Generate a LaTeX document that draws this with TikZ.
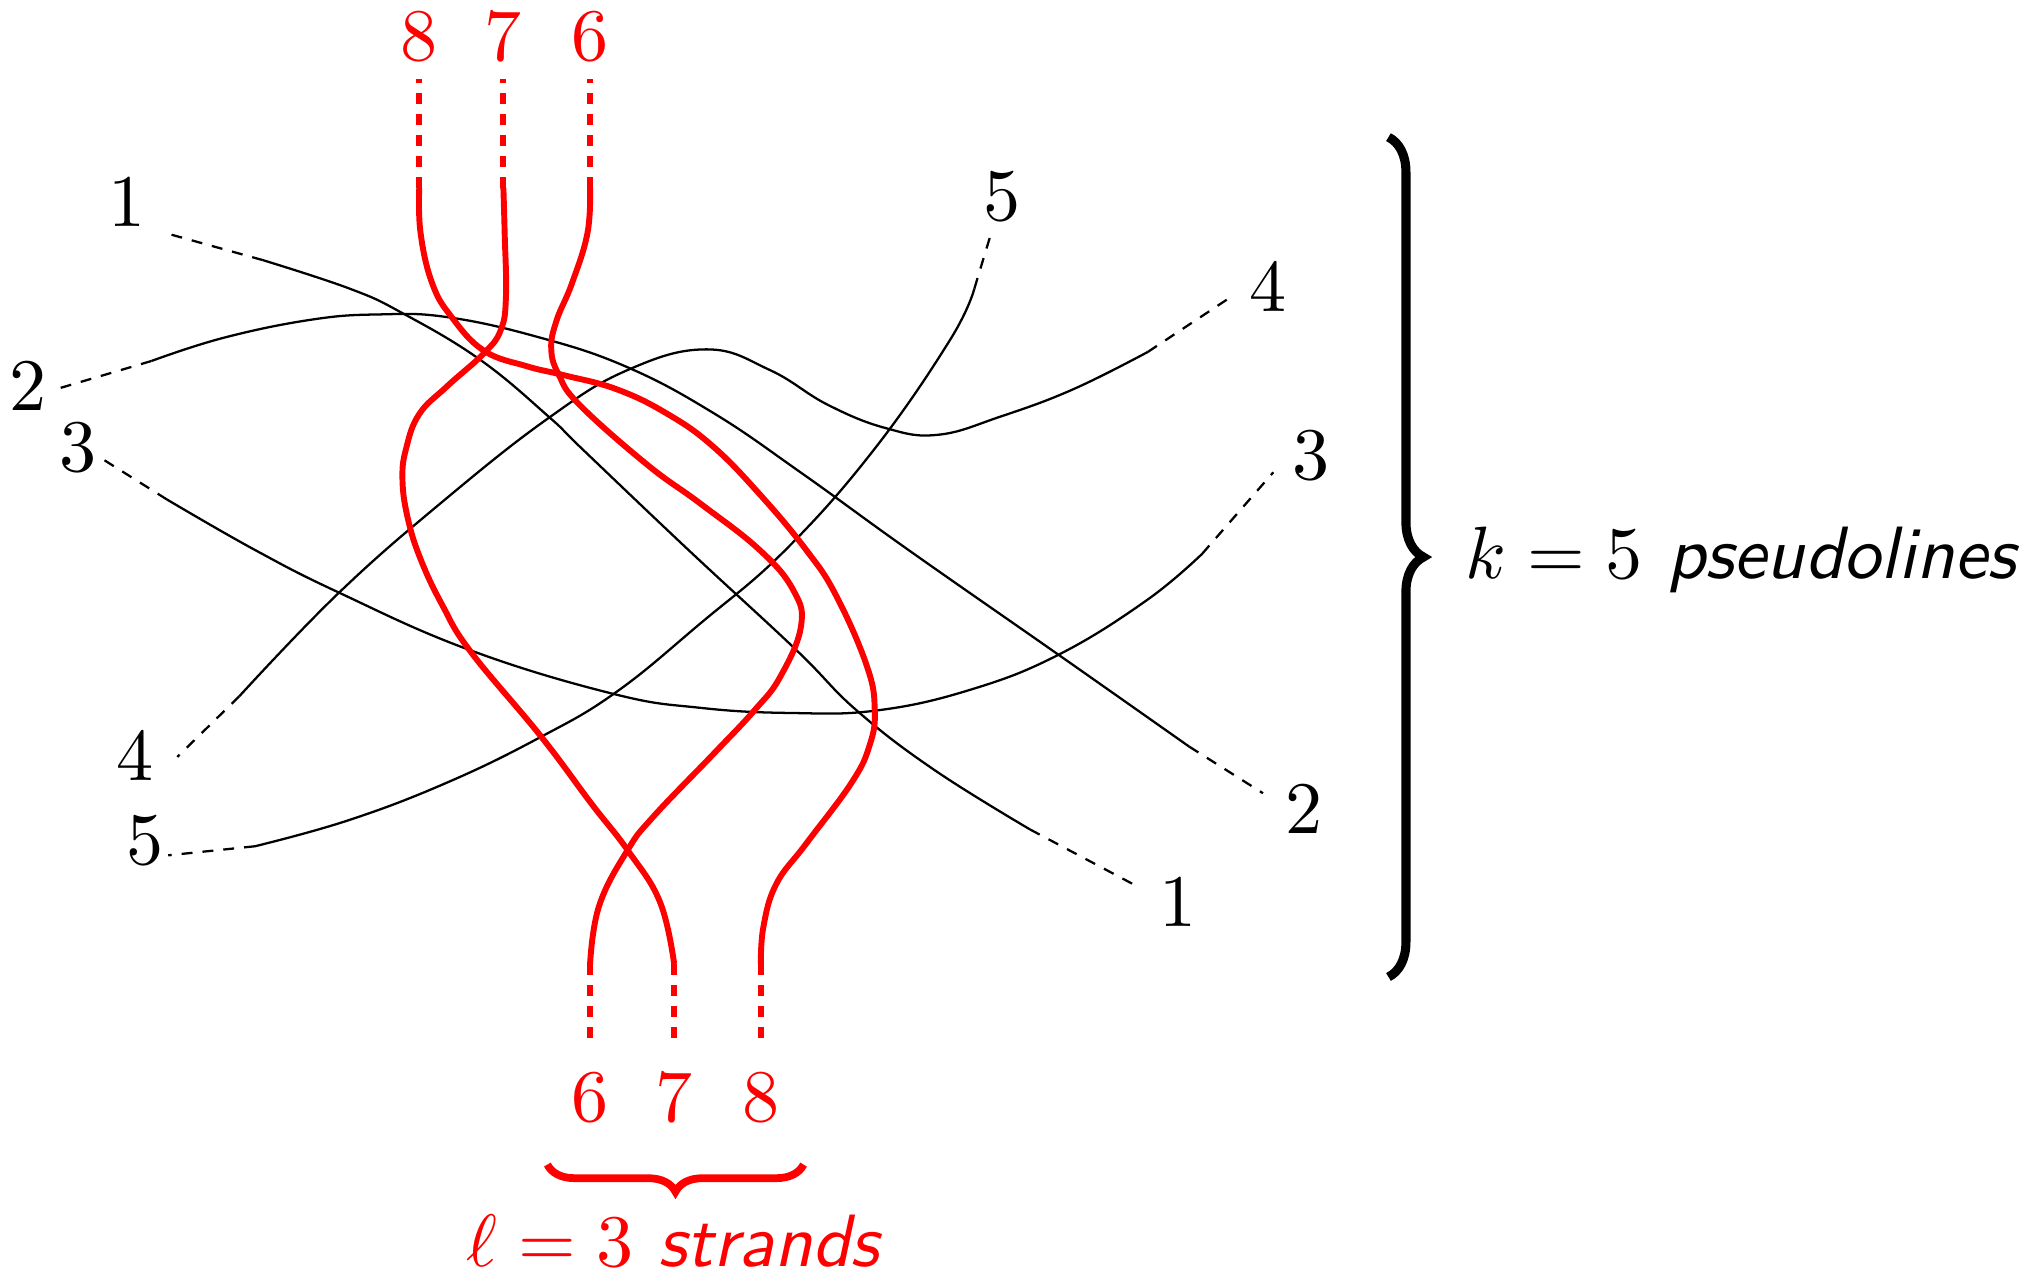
\documentclass[tikz,border=0pt]{standalone}
\usepackage{graphicx}
\usepackage{tikz}
\usetikzlibrary{positioning, decorations.pathreplacing}

% text is set at 10pt and blown up
\newcommand{\tx}[1]{\scalebox{1.63}{#1}}

\begin{document}
\begin{tikzpicture}[
    x=1mm, y=-1mm,
    lbl/.style={inner sep=0pt},
    pline/.style={line width=0.5pt},
    strand/.style={red, line width=1.3pt},
    ext/.style={dash pattern=on 2.4pt off 2.2pt},
    curve/.style={smooth, tension=0.7},
    bigbrace/.style={decorate, decoration={brace, amplitude=#1}}
]
\useasboundingbox (0,0) rectangle (156.8,98.6);

% ends of the pseudolines
\coordinate (a1) at (20.3,20.1);  \coordinate (b1) at (79.6,64.1);
\coordinate (a2) at (11.7,27.9);  \coordinate (b2) at (91.9,57.7);
\coordinate (a3) at (12.9,38.6);  \coordinate (b3) at (92.9,42.8);
\coordinate (a4) at (18.5,53.8);  \coordinate (b4) at (88.7,27.2);
\coordinate (a5) at (19.7,65.4);  \coordinate (b5) at (75.3,22.3);
\coordinate (d1l) at (12.75,18.0); \coordinate (d1r) at (87.7,68.4);
\coordinate (d2l) at (4.6,30.0);   \coordinate (d2r) at (97.6,61.3);
\coordinate (d3l) at (7.8,35.4);   \coordinate (d3r) at (98.4,36.5);
\coordinate (d4l) at (13.7,58.5);  \coordinate (d4r) at (95.2,22.9);
\coordinate (d5l) at (13.0,66.1);  \coordinate (d5r) at (76.6,18.0);

% ends of the strands
\coordinate (t8) at (32.4,14.5);  \coordinate (u8) at (58.8,74.5);
\coordinate (t7) at (38.9,14.5);  \coordinate (u7) at (52.1,74.5);
\coordinate (t6) at (45.6,14.5);  \coordinate (u6) at (45.6,74.5);
\coordinate (v8) at (32.4,6.1);   \coordinate (w8) at (58.8,80.3);
\coordinate (v7) at (38.9,6.1);   \coordinate (w7) at (52.1,80.3);
\coordinate (v6) at (45.6,6.1);   \coordinate (w6) at (45.6,80.3);

% labels
\node[lbl] (p1l) at (9.8,15.6) {\tx{1}};
\node[lbl] (p2l) at (2.2,29.8) {\tx{2}};
\node[lbl] (p3l) at (6.0,34.6) {\tx{3}};
\node[lbl] (p4l) at (10.4,58.4) {\tx{4}};
\node[lbl] (p5l) at (11.2,65.0) {\tx{5}};
\node[lbl] (p5r) at (77.4,15.2) {\tx{5}};
\node[lbl] (p4r) at (98.0,22.1) {\tx{4}};
\node[lbl] (p3r) at (101.3,35.2) {\tx{3}};
\node[lbl] (p2r) at (100.8,62.5) {\tx{2}};
\node[lbl] (p1r) at (91.0,69.7) {\tx{1}};
\node[lbl, red] (s8t) at (32.4,2.8) {\tx{8}};
\node[lbl, red] (s7t) at (38.9,2.8) {\tx{7}};
\node[lbl, red] (s6t) at (45.6,2.8) {\tx{6}};
\node[lbl, red] (s6b) at (45.6,84.8) {\tx{6}};
\node[lbl, red] (s7b) at (52.1,84.8) {\tx{7}};
\node[lbl, red] (s8b) at (58.8,84.8) {\tx{8}};

% pseudolines
\draw[pline] plot[curve] coordinates {(a1) (27.0,22.3) (31.1,24.2) (37.1,27.8)
    (42.4,32.2) (45.1,34.8) (53.2,42.5) (61.5,50.2) (66.2,54.9) (72.2,59.5) (b1)};
\draw[pline] plot[curve] coordinates {(a2) (17.3,26.1) (24.1,24.7) (29.3,24.3)
    (34.5,24.5) (41.4,26.0) (48.3,28.3) (55.1,31.9) (62.0,36.6) (70.2,42.5) (81.8,50.6) (b2)};
\draw[pline] plot[curve] coordinates {(a3) (19.7,42.5) (26.2,45.8) (36.2,50.2)
    (47.3,53.6) (54.1,54.7) (61.1,55.1) (67.8,54.9) (75.0,53.3) (81.8,50.6) (88.6,46.4) (b3)};
\draw[pline] plot[curve] coordinates {(a4) (26.2,45.8) (34.4,38.6) (42.4,32.3)
    (48.5,28.6) (54.6,27.0) (59.5,28.6) (64.0,31.3) (68.5,33.1) (72.5,33.6)
    (77.3,32.2) (82.9,30.1) (b4)};
\draw[pline] plot[curve] coordinates {(a5) (26.9,63.4) (34.5,60.5) (41.7,57.0)
    (47.6,53.5) (54.1,48.2) (60.7,42.5) (67.5,34.8) (73.4,26.3) (b5)};
\foreach \i in {1,...,5} {
  \draw[pline, ext] (a\i) -- (d\i l);
  \draw[pline, ext] (b\i) -- (d\i r);
}

% strands
\draw[strand] plot[curve] coordinates {(t8) (32.5,18.0) (33.4,21.9) (34.9,24.5)
    (37.4,27.1) (40.7,28.3) (43.6,29.0) (47.7,30.1) (51.6,32.0) (55.1,34.5)
    (58.8,38.3) (62.3,42.5) (64.6,46.0) (67.0,51.5) (67.6,54.9) (67.2,57.6)
    (65.8,60.5) (62.3,65.2) (60.0,68.3) (59.0,71.6) (u8)};
\draw[strand] plot[curve] coordinates {(t7) (39.0,18.0) (39.1,22.9) (38.7,25.5)
    (37.4,27.3) (34.5,29.9) (32.4,32.0) (31.4,34.6) (31.1,37.0) (31.5,40.0)
    (32.5,43.2) (34.2,46.8) (36.4,50.4) (41.8,56.9) (45.7,62.1) (48.5,65.7)
    (51.0,69.7) (u7)};
\draw[strand] plot[curve] coordinates {(t6) (45.4,18.0) (44.2,21.9) (43.0,24.8)
    (42.6,27.0) (43.2,29.0) (44.8,31.3) (50.0,35.9) (54.1,38.9) (58.7,42.5)
    (61.3,45.6) (61.9,48.4) (60.3,52.3) (58.3,54.9) (55.2,58.2) (50.5,63.1)
    (48.5,65.7) (46.3,70.0) (u6)};
\foreach \i in {6,7,8} {
  \draw[strand, ext] (t\i) -- (v\i);
  \draw[strand, ext] (u\i) -- (w\i);
}

% braces
\coordinate (kt) at (107.3,10.6);  \coordinate (kb) at (107.3,75.5);
\draw[bigbrace=2.7mm, line width=2pt] (kt) -- (kb);
\node[lbl, anchor=base west] (ktext) at (113.2,44.7)
    {\tx{$k = 5$ \textsf{\textit{pseudolines}}}};
\coordinate (ll) at (42.3,90.0);  \coordinate (lr) at (62.1,90.0);
\draw[bigbrace=2.1mm, red, line width=1.7pt] (lr) -- (ll);
\node[lbl, red, anchor=base] (ltext) at (52.15,97.9)
    {\tx{$\ell = 3$ \textsf{\textit{strands}}}};
\end{tikzpicture}
\end{document}
